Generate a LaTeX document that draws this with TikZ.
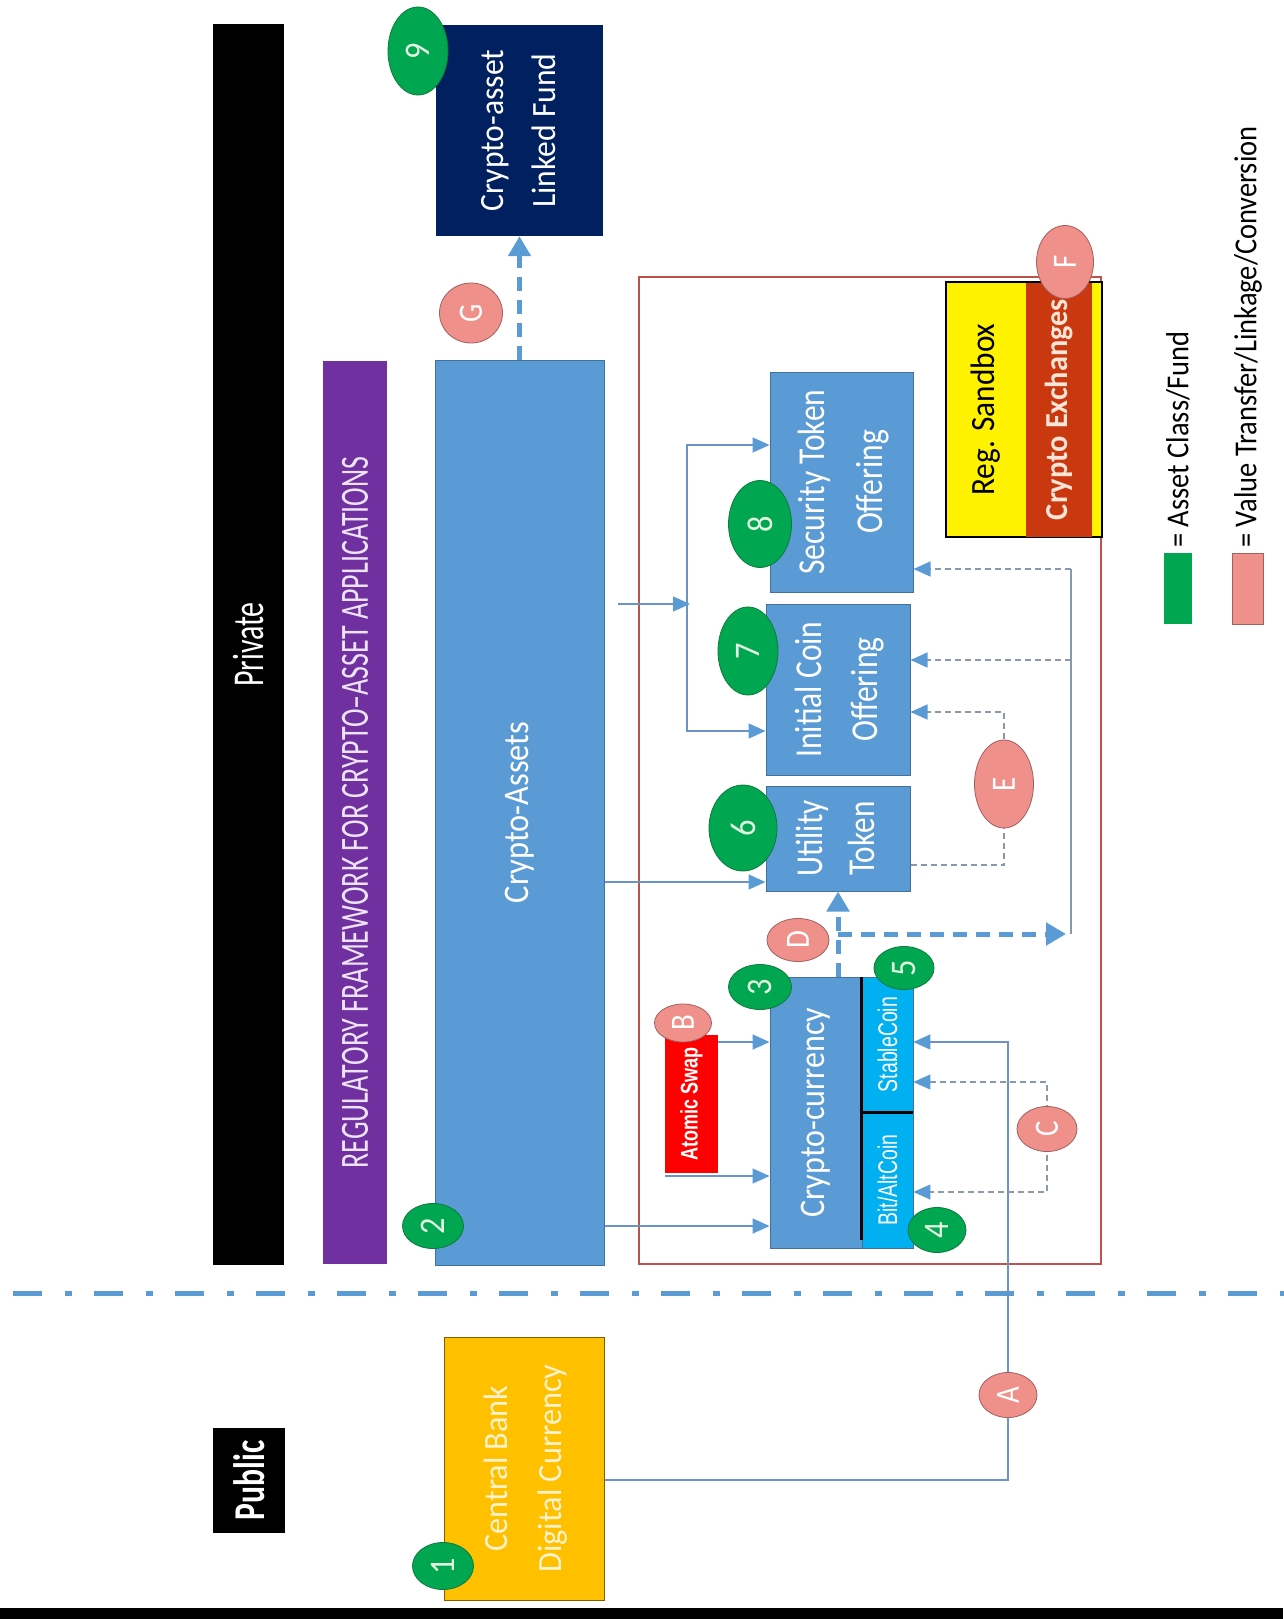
\documentclass[tikz,border=0pt]{standalone}
\usepackage{fontspec}
\usepackage{graphicx}
\setmainfont{Carlito}
\newfontfamily\arialf{Liberation Sans}
\usetikzlibrary{arrows.meta,shapes.geometric,calc}
\newcommand\cx[2]{\scalebox{#1}[1]{#2}}
\newcommand\fsz[2]{\fontsize{#1pt}{#2pt}\selectfont}
\definecolor{cablue}{HTML}{5B9BD5}
\definecolor{boxedge}{HTML}{41719C}
\definecolor{navy}{HTML}{002060}
\definecolor{regpurple}{HTML}{7030A0}
\definecolor{gold}{HTML}{FFC000}
\definecolor{goldedge}{HTML}{7F6000}
\definecolor{cyanb}{HTML}{00B0F0}
\definecolor{exch}{HTML}{C9380E}
\definecolor{exchtext}{HTML}{FCE4D6}
\definecolor{gnum}{HTML}{00A650}
\definecolor{gedge}{HTML}{0E7A3C}
\definecolor{gtext}{HTML}{E2F5E0}
\definecolor{pinkc}{HTML}{F0908A}
\definecolor{pedge}{HTML}{A06060}
\definecolor{framered}{HTML}{C0504D}
\definecolor{lineblue}{HTML}{6C93C9}
\definecolor{dashgray}{HTML}{8A98AE}
\definecolor{cbdctext}{HTML}{FFF2CC}
\definecolor{purtext}{HTML}{EDE3F7}
\begin{document}
\begin{tikzpicture}[x=1pt,y=-1pt,
  box/.style={draw=boxedge, line width=1pt, fill=cablue, inner sep=0pt, text=white},
  gc/.style={ellipse, fill=gnum, draw=gedge, line width=0.8pt, inner sep=0pt, text=gtext},
  pc/.style={ellipse, fill=pinkc, draw=pedge, line width=0.8pt, inner sep=0pt, text=white},
  conn/.style={draw=lineblue, line width=1.6pt},
  vline/.style={draw=dashgray, line width=1.6pt},
  dconn/.style={draw=dashgray, line width=1.3pt, dash pattern=on 6pt off 4pt},
  thickd/.style={draw=cablue, line width=5pt, dash pattern=on 14pt off 9pt},
  ttip/.style={-{Triangle[length=17pt,width=15pt,color=cablue]}},
  btip/.style={{Triangle[length=17pt,width=15pt,color=cablue]}-{Triangle[length=17pt,width=15pt,color=cablue]}},
  bigtip/.style={-{Triangle[length=20pt,width=22pt,color=cablue]}},
  sepline/.style={draw=cablue, line width=5pt, dash pattern=on 29pt off 23pt on 7pt off 22pt},
  txt/.style={inner sep=0pt}
]
\useasboundingbox (0,0) rectangle (1283,1619);
\fill[white] (0,0) rectangle (1283,1619);

% bottom band and separator
\fill[black] (0,1608) rectangle (1283,1619);
\draw[sepline] (-68,1293) -- (1300,1293);

% frame
\node[draw=framered, line width=1.5pt, minimum width=462pt, minimum height=987pt, inner sep=0pt] (frame) at (870,770.5) {};

% bars
\node[fill=black, minimum width=71pt, minimum height=1241pt, inner sep=0pt, text=white] (private) at (248.5,644.5)
  {\rotatebox{90}{\fsz{44}{50}\cx{0.68}{Private}}};
\node[fill=black, minimum width=72pt, minimum height=105pt, inner sep=0pt, text=white] (public) at (249,1480.5)
  {\rotatebox{90}{\fsz{44}{50}\bfseries\cx{0.72}{Public}}};
\node[fill=regpurple, minimum width=64pt, minimum height=903pt, inner sep=0pt, text=purtext] (regf) at (355,812.5)
  {\rotatebox{90}{\fsz{40}{46}\cx{0.7}{REGULATORY FRAMEWORK FOR CRYPTO--ASSET APPLICATIONS}}};

% main boxes
\node[box, minimum width=169pt, minimum height=905pt] (cassets) at (519.5,812.5)
  {\rotatebox{90}{\fsz{36}{42}\cx{0.9}{Crypto-Assets}}};
\node[fill=navy, minimum width=167pt, minimum height=211pt, inner sep=0pt, text=white] (fund) at (519.5,130.5)
  {\rotatebox{90}{\fsz{34}{52}\begin{tabular}{@{}c@{}}\cx{0.93}{Crypto-asset}\\\cx{0.93}{Linked Fund}\end{tabular}}};
\node[fill=gold, draw=goldedge, line width=1pt, minimum width=160pt, minimum height=263pt, inner sep=0pt, text=cbdctext] (cbdc) at (524,1468.5)
  {\rotatebox{90}{\fsz{34}{54}\begin{tabular}{@{}c@{}}\cx{0.95}{Central Bank}\\\cx{0.95}{Digital Currency}\end{tabular}}};

\node[box, minimum width=92pt, minimum height=271pt] (ccur) at (816,1112.5)
  {\rotatebox{90}{\fsz{36}{42}\cx{0.89}{Crypto-currency}}};
\node[fill=cyanb, draw=boxedge, line width=0.8pt, minimum width=51pt, minimum height=135pt, inner sep=0pt, text=white] (stable) at (887.5,1044.5)
  {\rotatebox{90}{\fsz{27}{32}\arialf\cx{0.72}{StableCoin}}};
\node[fill=cyanb, draw=boxedge, line width=0.8pt, minimum width=51pt, minimum height=136pt, inner sep=0pt, text=white] (bitalt) at (887.5,1180)
  {\rotatebox{90}{\fsz{27}{32}\arialf\cx{0.72}{Bit/AltCoin}}};
\draw[black, line width=2.5pt] (stable.north west) -- ([yshift=8pt]bitalt.south west);
\draw[black, line width=2.5pt] (stable.south west) -- (stable.south east);

\node[fill=red, minimum width=53pt, minimum height=138pt, inner sep=0pt, text=white] (atomic) at (691.5,1104)
  {\rotatebox{90}{\fsz{24}{28}\arialf\bfseries\cx{0.75}{Atomic Swap}}};

\node[box, minimum width=144pt, minimum height=105pt] (util) at (838,838.5)
  {\rotatebox{90}{\fsz{38}{52}\begin{tabular}{@{}c@{}}\cx{0.82}{Utility}\\\cx{0.82}{Token}\end{tabular}}};
\node[box, minimum width=144pt, minimum height=171pt] (ico) at (838,689.5)
  {\rotatebox{90}{\fsz{38}{56}\begin{tabular}{@{}c@{}}\cx{0.83}{Initial Coin}\\\cx{0.83}{Offering}\end{tabular}}};
\node[box, minimum width=143pt, minimum height=220pt] (sto) at (841.5,482)
  {\rotatebox{90}{\fsz{38}{58}\begin{tabular}{@{}c@{}}\cx{0.83}{Security Token}\\\cx{0.83}{Offering}\end{tabular}}};

% sandbox
\node[fill=yellow, draw=black, line width=1.2pt, minimum width=156pt, minimum height=255pt, inner sep=0pt] (sbox) at (1024,409.5) {};
\node[fill=exch, minimum width=66pt, minimum height=254pt, inner sep=0pt, text=exchtext] (exch) at (1059,409.5)
  {\rotatebox{90}{\fsz{32}{38}\bfseries\cx{0.95}{Crypto Exchanges}}};
\node[txt] (reg) at (986,409.5) {\rotatebox{90}{\fsz{34}{40}\cx{0.92}{Reg. Sandbox}}};
\draw[black, line width=1.2pt] (sbox.north west) rectangle (sbox.south east);

% connectors
\coordinate (aturn) at (1008,1042);
\draw[conn, ttip] (cbdc.east |- 0,1480) -| (aturn) -- (stable.east |- aturn);
\draw[conn, ttip] (cassets.east |- 0,1226) -- (ccur.west |- 0,1226);
\draw[conn, ttip] (cassets.east |- 0,882) -- (util.west |- 0,882);
\coordinate (jn) at (687,604);
\draw[conn, ttip] ([xshift=13pt]cassets.east |- jn) -- ([xshift=3pt]jn);
\draw[conn, btip] (sto.west |- 0,445) -| (jn) |- (ico.west |- 0,731);
\draw[conn, ttip] (atomic.east |- 0,1042) -- (ccur.west |- 0,1042);
\draw[conn, ttip] (atomic.west |- 0,1176) -- (ccur.west |- 0,1176);

\coordinate (cc) at (1047,1129);
\draw[dconn, btip] (stable.east |- 0,1082) -| (cc) |- (bitalt.east |- 0,1192);

\draw[thickd, bigtip] (util.south |- ccur.north) -- (util.south);
\coordinate (rvb) at (1071,934);
\coordinate (rvt) at (1071,569);
\draw[thickd, bigtip] (util.south |- rvb) -- ([xshift=-5pt]rvb);
\draw[vline] (rvb) -- (rvt);
\draw[dconn, ttip] (rvt) -- (sto.east |- rvt);
\draw[dconn, ttip] (rvb |- 0,660) -- (ico.east |- 0,660);

\coordinate (ec) at (1004,784);
\draw[dconn, ttip] (util.east |- 0,865) -| (ec) |- (ico.east |- 0,712);

\draw[thickd, bigtip] (cassets.north) -- (fund.south);

% number circles
\node[gc, minimum width=61pt, minimum height=47pt] (n1) at (443,1566) {\rotatebox{90}{\fsz{36}{40}\cx{0.9}{1}}};
\node[gc, minimum width=61pt, minimum height=45pt] (n2) at (433,1226) {\rotatebox{90}{\fsz{36}{40}\cx{0.9}{2}}};
\node[gc, minimum width=63pt, minimum height=45pt] (n3) at (760,987) {\rotatebox{90}{\fsz{36}{40}\cx{0.9}{3}}};
\node[gc, minimum width=58pt, minimum height=45pt] (n4) at (937,1230) {\rotatebox{90}{\fsz{36}{40}\cx{0.9}{4}}};
\node[gc, minimum width=60pt, minimum height=43pt] (n5) at (904,968) {\rotatebox{90}{\fsz{36}{40}\cx{0.9}{5}}};
\node[gc, minimum width=68pt, minimum height=86pt] (n6) at (743,828) {\rotatebox{90}{\fsz{36}{40}\cx{0.9}{6}}};
\node[gc, minimum width=60pt, minimum height=88pt] (n7) at (748,651) {\rotatebox{90}{\fsz{36}{40}\cx{0.9}{7}}};
\node[gc, minimum width=63pt, minimum height=87pt] (n8) at (760,524) {\rotatebox{90}{\fsz{36}{40}\cx{0.9}{8}}};
\node[gc, minimum width=60pt, minimum height=88pt] (n9) at (418,51) {\rotatebox{90}{\fsz{36}{40}\cx{0.9}{9}}};

% letter circles
\node[pc, minimum width=58pt, minimum height=45pt] (A) at (1008,1395) {\rotatebox{90}{\fsz{34}{38}\cx{0.85}{A}}};
\node[pc, minimum width=57pt, minimum height=38pt] (B) at (683,1023) {\rotatebox{90}{\fsz{34}{38}\cx{0.85}{B}}};
\node[pc, minimum width=60pt, minimum height=45pt] (C) at (cc) {\rotatebox{90}{\fsz{34}{38}\cx{0.85}{C}}};
\node[pc, minimum width=62pt, minimum height=43pt] (D) at (798,940) {\rotatebox{90}{\fsz{34}{38}\cx{0.85}{D}}};
\node[pc, minimum width=59pt, minimum height=88pt] (E) at (ec) {\rotatebox{90}{\fsz{34}{38}\cx{0.85}{E}}};
\node[pc, minimum width=57pt, minimum height=73pt] (F) at (1065,262) {\rotatebox{90}{\fsz{34}{38}\cx{0.85}{F}}};
\node[pc, minimum width=63pt, minimum height=60pt] (G) at (471,313) {\rotatebox{90}{\fsz{34}{38}\cx{0.85}{G}}};

% legend
\node[fill=gnum, minimum width=28pt, minimum height=71pt, inner sep=0pt] (lg) at (1178,588.5) {};
\node[fill=pinkc, draw=pedge, line width=0.8pt, minimum width=31pt, minimum height=71pt, inner sep=0pt] (lp) at (1247.5,588.5) {};
\node[txt, anchor=south] (lgt) at (1178,548) {\rotatebox{90}{\fsz{32}{36}\cx{0.89}{= Asset Class/Fund}}};
\node[txt, anchor=south] (lpt) at (1248,548) {\rotatebox{90}{\fsz{32}{36}\cx{0.89}{= Value Transfer/Linkage/Conversion}}};
\end{tikzpicture}
\end{document}
